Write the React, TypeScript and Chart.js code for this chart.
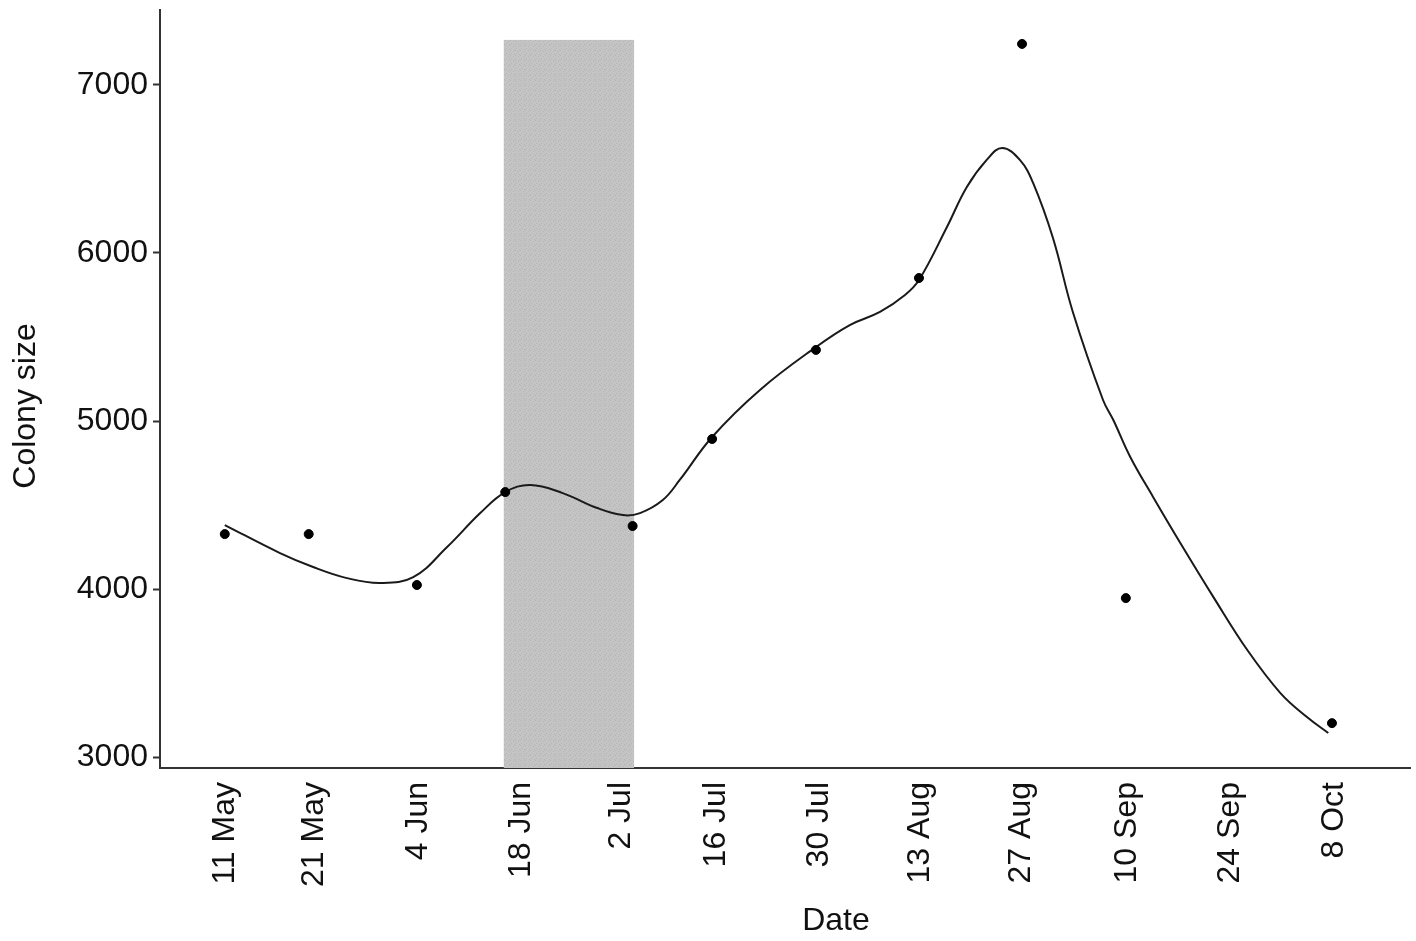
import React, { useEffect, useRef } from "react";
import { Chart, registerables } from "chart.js";

Chart.register(...registerables);

// ---- data (x = day of year) ----
const tickLabels = ["11 May", "21 May", "4 Jun", "18 Jun", "2 Jul", "16 Jul", "30 Jul", "13 Aug", "27 Aug", "10 Sep", "24 Sep", "8 Oct"];
const tickDays = [130.7, 142.9, 157.0, 171.0, 184.6, 197.5, 211.4, 225.1, 238.9, 253.3, 267.3, 281.4];

const sampleDays = [130.7, 142.1, 156.8, 168.8, 186.1, 196.9, 211.0, 225.0, 239.0, 253.1, 281.1];
const colonySize = [4327, 4327, 4024, 4577, 4375, 4893, 5423, 5851, 7244, 3946, 3202];

const smoothDays = [130.7, 138.2, 142.7, 147.3, 151.8, 156.3, 160.9, 165.4, 168.8, 172.2, 176.6, 181.3, 184.8, 187.1, 190.2, 192.5, 196.9, 203.4, 211.0, 215.6, 219.7, 223.1, 225.0, 228.8, 231.5, 234.2, 236.3, 238.7, 240.5, 243.2, 245.9, 250.0, 251.4, 253.7, 256.8, 260.5, 265.0, 269.6, 274.1, 277.7, 280.6];
const smoothSize = [4381, 4214, 4131, 4065, 4036, 4071, 4250, 4452, 4577, 4619, 4571, 4482, 4440, 4452, 4530, 4649, 4905, 5185, 5440, 5571, 5649, 5750, 5839, 6155, 6393, 6554, 6625, 6554, 6417, 6089, 5649, 5125, 5006, 4786, 4548, 4274, 3952, 3637, 3381, 3238, 3143];

const shadeStartDay = 168.6;
const shadeEndDay = 186.3;
const shadeTop = 7268;

const yTicks = [3000, 4000, 5000, 6000, 7000];
const xMin = 121.9;
const xMax = 291.7;
const yMin = 2935;
const yMax = 7446;

const xTitle = "Date";
const yTitle = "Colony size";

const FONT = "'Liberation Sans', Arial, Helvetica, sans-serif";

export default function App() {
  const ref = useRef<HTMLCanvasElement>(null);

  useEffect(() => {
    const canvas = ref.current!;
    Chart.defaults.font.family = FONT;

    const tile = document.createElement("canvas");
    tile.width = 5;
    tile.height = 5;
    const t = tile.getContext("2d")!;
    t.fillStyle = "#c4c4c4";
    t.fillRect(0, 0, 5, 5);
    t.fillStyle = "#b5b5b5";
    t.fillRect(0, 0, 1, 1);
    t.fillRect(3, 1, 1, 1);
    t.fillRect(1, 3, 1, 1);
    t.fillRect(4, 4, 1, 1);

    const shadePlugin = {
      id: "shade",
      beforeDatasetsDraw(chart: any) {
        const { ctx, chartArea, scales } = chart;
        const x0 = scales.x.getPixelForValue(shadeStartDay);
        const x1 = scales.x.getPixelForValue(shadeEndDay);
        const yt = scales.y.getPixelForValue(shadeTop);
        ctx.save();
        ctx.fillStyle = ctx.createPattern(tile, "repeat") || "#c0c0c0";
        ctx.fillRect(x0, yt, x1 - x0, chartArea.bottom - yt);
        ctx.restore();
      },
    };

    const titlePlugin = {
      id: "axisTitles",
      afterDraw(chart: any) {
        const { ctx, chartArea } = chart;
        ctx.save();
        ctx.fillStyle = "#111";
        ctx.font = `32px ${FONT}`;
        ctx.textAlign = "center";
        ctx.textBaseline = "alphabetic";
        const cx = (chartArea.left + chartArea.right) / 2;
        ctx.fillText(xTitle, cx + 51, 930);
        const cy = (chartArea.top + chartArea.bottom) / 2;
        ctx.translate(35, cy + 17);
        ctx.rotate(-Math.PI / 2);
        ctx.fillText(yTitle, 0, 0);
        ctx.restore();
      },
    };

    const chart = new Chart(canvas, {
      type: "scatter",
      data: {
        datasets: [
          {
            label: "Colony size",
            data: sampleDays.map((d, i) => ({ x: d, y: colonySize[i] })),
            backgroundColor: "#000",
            borderColor: "#000",
            pointRadius: 4.5,
            showLine: false,
            order: 1,
          },
          {
            label: "Smooth",
            data: smoothDays.map((d, i) => ({ x: d, y: smoothSize[i] })),
            showLine: true,
            borderColor: "#1a1a1a",
            borderWidth: 2,
            pointRadius: 0,
            tension: 0.4,
            order: 2,
          } as any,
        ],
      },
      options: {
        responsive: false,
        animation: false,
        layout: { padding: { top: 10, right: 6, left: 0, bottom: 0 } },
        plugins: {
          legend: { display: false },
          tooltip: { enabled: false },
          title: { display: false },
        },
        scales: {
          x: {
            type: "linear",
            min: xMin,
            max: xMax,
            afterBuildTicks: (s: any) => {
              s.ticks = tickDays.map((v) => ({ value: v }));
            },
            afterFit: (s: any) => {
              s.height = 173;
              s.paddingLeft = 0;
              s.paddingRight = 0;
              s.paddingTop = 0;
              s.paddingBottom = 0;
            },
            grid: { display: false, drawTicks: false },
            border: { display: true, color: "#333", width: 2 },
            ticks: {
              autoSkip: false,
              minRotation: 90,
              maxRotation: 90,
              padding: 14,
              color: "#111",
              font: { size: 32 },
              callback: (_v: any, i: number) => tickLabels[i],
            },
          },
          y: {
            type: "linear",
            min: yMin,
            max: yMax,
            afterBuildTicks: (s: any) => {
              s.ticks = yTicks.map((v) => ({ value: v }));
            },
            afterFit: (s: any) => {
              s.width = 160;
              s.paddingLeft = 0;
              s.paddingRight = 0;
              s.paddingTop = 0;
              s.paddingBottom = 0;
            },
            grid: { drawOnChartArea: false, drawTicks: true, tickLength: 7, tickColor: "#333", tickWidth: 2 },
            border: { display: true, color: "#333", width: 2 },
            ticks: {
              padding: 5,
              color: "#111",
              font: { size: 32 },
              callback: (v: any) => String(v),
            },
          },
        },
      } as any,
      plugins: [shadePlugin, titlePlugin],
    });

    return () => chart.destroy();
  }, []);

  return (
    <div style={{ position: "fixed", left: 0, top: 0, width: 1416, height: 941, background: "#fff" }}>
      <canvas ref={ref} width={1416} height={941} style={{ display: "block" }} />
    </div>
  );
}
